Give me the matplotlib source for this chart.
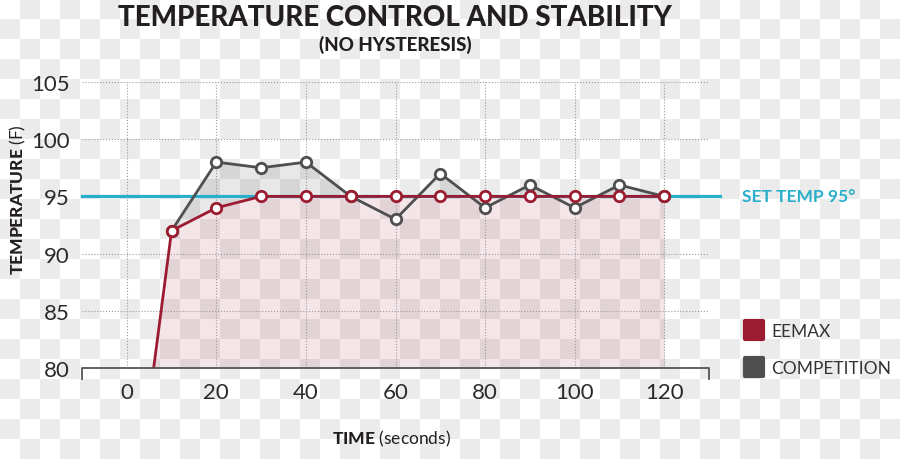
import numpy as np
import matplotlib
matplotlib.use('Agg')
import matplotlib.pyplot as plt
from matplotlib.colors import ListedColormap
from matplotlib.lines import Line2D
from matplotlib.markers import MarkerStyle

plt.rcParams['font.family'] = 'Lato'
plt.rcParams['mathtext.fontset'] = 'custom'
plt.rcParams['mathtext.bf'] = 'Lato:black'

# data
time_eemax = [0, 10, 20, 30, 40, 50, 60, 70, 80, 90, 100, 110, 120]
temp_eemax = [62, 92, 94, 95, 95, 95, 95, 95, 95, 95, 95, 95, 95]
time_comp = [10, 20, 30, 40, 50, 60, 70, 80, 90, 100, 110, 120]
temp_comp = [92, 98, 97.5, 98, 95, 93, 97, 94, 96, 94, 96, 95]
set_temp = 95
x_ticks = [0, 20, 40, 60, 80, 100, 120]
y_ticks = [80, 85, 90, 95, 100, 105]

RED = '#9b1b30'
GREY = '#4f4f4f'
CYAN = '#29afcb'
INK = '#231f20'

fig = plt.figure(figsize=(9, 4.6), dpi=100)

# transparency checkerboard behind everything
bg = fig.add_axes([0, 0, 1, 1], zorder=-10)
ii, jj = np.indices((23, 45))
bg.imshow((ii + jj) % 2, cmap=ListedColormap(['white', '#ebebeb']),
          interpolation='nearest', aspect='auto', extent=(0, 1, 0, 1))
bg.axis('off')

ax = fig.add_axes([82 / 900, 1 - 369 / 460, 627 / 900, 286 / 460])
ax.set_facecolor('none')

ax.axhline(set_temp, xmin=0, xmax=1.017, color=CYAN, lw=2.3, clip_on=False,
           zorder=2)

red_at_comp = np.array(temp_eemax[1:])
comp = np.array(temp_comp)
ax.fill_between(time_comp, red_at_comp, comp, where=comp > red_at_comp,
                interpolate=True, color=GREY, alpha=0.13, lw=0, zorder=1)
ax.fill_between(time_eemax, 80, temp_eemax, color=RED, alpha=0.11, lw=0,
                zorder=1)

ax.plot(time_comp, temp_comp, '-o', color=GREY, lw=2.0, ms=7.5, mew=2.0,
        mfc='white', zorder=3)
ax.plot(time_eemax, temp_eemax, '-o', color=RED, lw=2.0, ms=7.5, mew=2.0,
        mfc='white', markevery=list(range(1, len(time_eemax))), zorder=4)

ax.set_xlim(-10, 130)
ax.set_ylim(80, 105)
ax.set_xticks(x_ticks)
ax.set_yticks(y_ticks)
ax.tick_params(length=0, labelsize=16, labelcolor='#2a2a2a')
ax.tick_params(axis='y', pad=9)
ax.tick_params(axis='x', pad=10)
ax.grid(True, linestyle=':', color='#9a9a9a', lw=0.8)
for s in ['top', 'right', 'left', 'bottom']:
    ax.spines[s].set_visible(False)
# bottom axis line with end caps
ax.plot([0, 0, 1, 1], [-0.038, 0, 0, -0.038], transform=ax.transAxes,
        color='#555555', lw=1.3, clip_on=False, zorder=5)

ax.text(1.053, set_temp, 'SET TEMP 95°', transform=ax.get_yaxis_transform(),
        color=CYAN, fontsize=12.5, fontweight='bold', va='center', ha='left')

fig.text(395 / 900, 1 - 18 / 460, 'TEMPERATURE CONTROL AND STABILITY',
         ha='center', va='center', fontsize=20, fontweight='black', color=INK)
fig.text(395 / 900, 1 - 45 / 460, '(NO HYSTERESIS)', ha='center',
         va='center', fontsize=13.5, fontweight='black', color=INK)
fig.text(18 / 900, 1 - 200 / 460, r'$\bf{TEMPERATURE}$ (F)', rotation=90,
         ha='center', va='center', fontsize=12.5, color=INK)
fig.text(392 / 900, 1 - 439 / 460, r'$\bf{TIME}$ (seconds)', ha='center',
         va='center', fontsize=12.5, color=INK)

sq = MarkerStyle('s', joinstyle='round')
handles = [Line2D([], [], ls='none', marker=sq, ms=13, mew=3, color=RED),
           Line2D([], [], ls='none', marker=sq, ms=13, mew=3, color=GREY)]
fig.legend(handles, ['EEMAX', 'COMPETITION'], loc='upper left',
           bbox_to_anchor=(728 / 900, 1 - 308 / 460), frameon=False,
           handlelength=1.2, handletextpad=0.4, labelspacing=1.25,
           prop={'size': 12.5}, labelcolor='#333333')

fig.savefig('out.png', dpi=100)
